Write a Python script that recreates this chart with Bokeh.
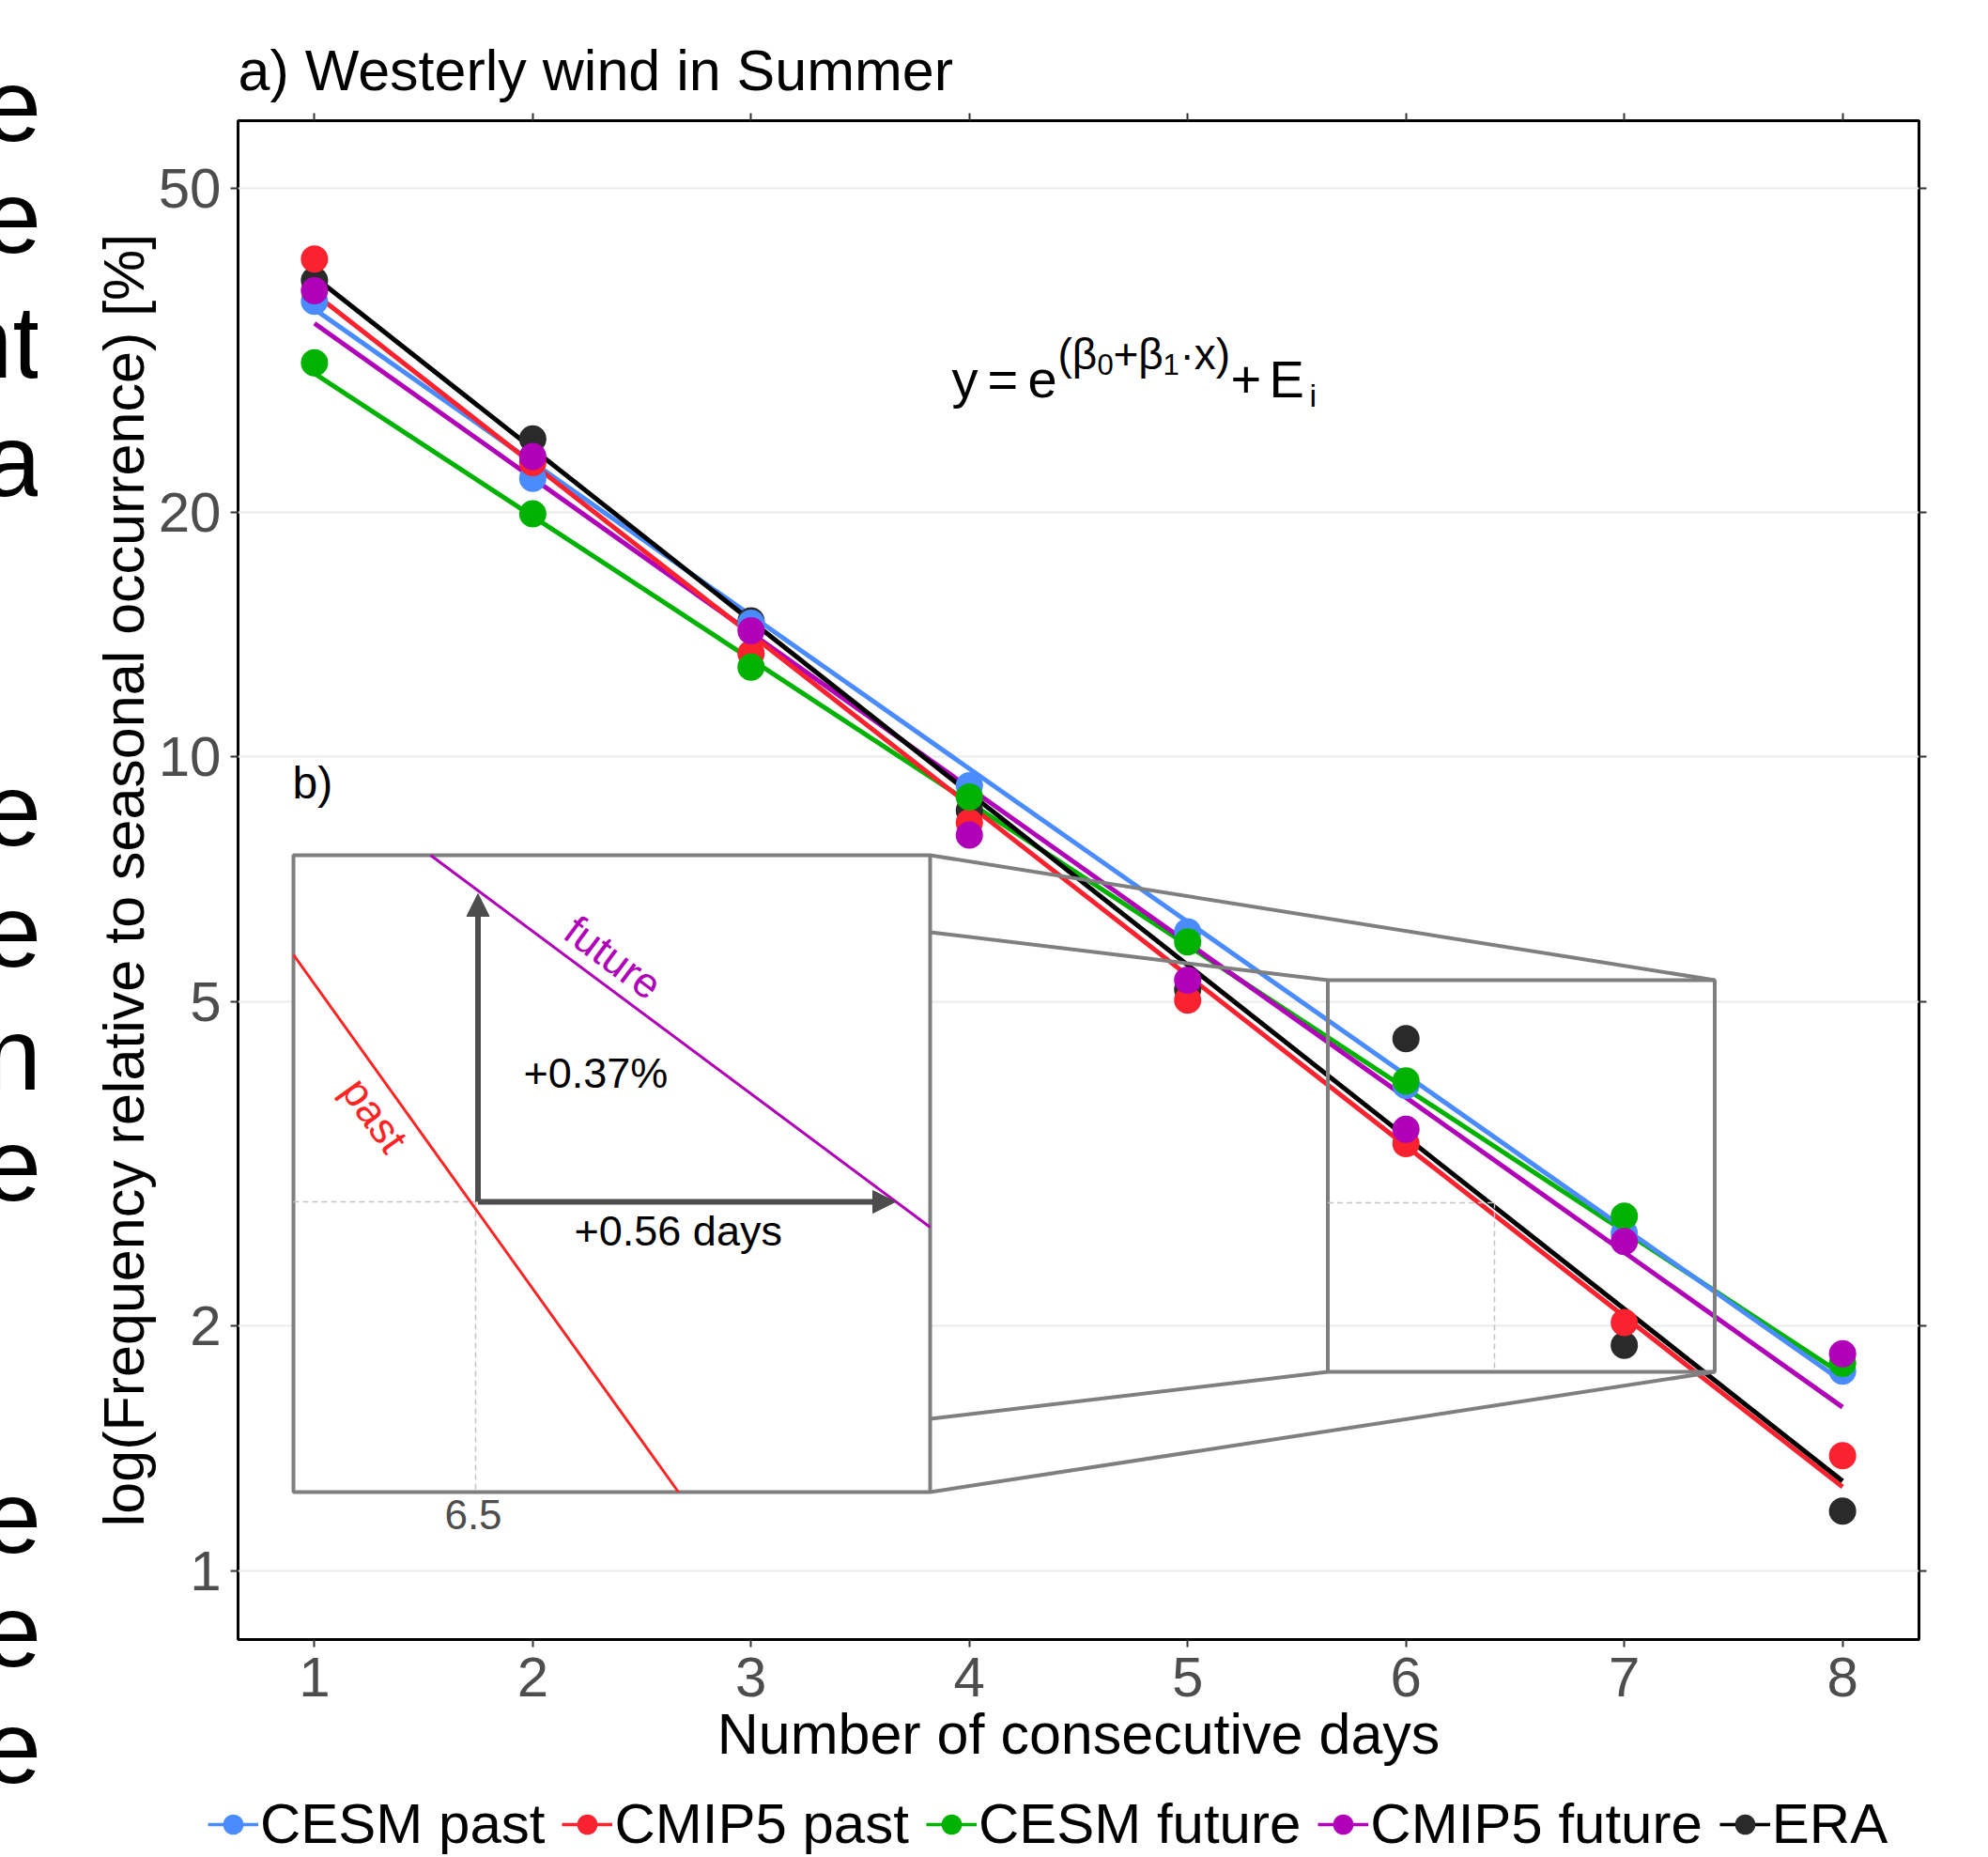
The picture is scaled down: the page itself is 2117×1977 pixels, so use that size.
import math
from bokeh.plotting import figure
from bokeh.layouts import row, column
from bokeh.models import (Range1d, FixedTicker, LinearAxis, LogAxis, PrintfTickFormatter,
                          CustomJSTickFormatter, Legend, LegendItem, Label, Arrow, NormalHead, Div)
from bokeh.embed import file_html
from bokeh.resources import INLINE

FONT = "Liberation Sans"

# ---------------- data ----------------
days = [1, 2, 3, 4, 5, 6, 7, 8]
y_ticks = [1, 2, 5, 10, 20, 50]
series_names = ["CESM past", "CMIP5 past", "CESM future", "CMIP5 future", "ERA"]

cesm_past = [36.3, 22.0, 14.6, 9.22, 6.1, 3.95, 2.6, 1.76]
cmip5_past = [40.9, 23.0, 13.4, 8.31, 5.03, 3.35, 2.02, 1.386]
cesm_future = [30.5, 19.9, 12.9, 8.93, 5.93, 4.00, 2.73, 1.80]
cmip5_future = [37.4, 23.4, 14.3, 8.02, 5.32, 3.49, 2.54, 1.849]
era = [38.5, 24.6, 14.7, 8.6, 5.18, 4.51, 1.894, 1.185]

fit_days = [1, 8]
fit_cesm_past = [35.5, 1.71]
fit_cmip5_past = [37.1, 1.269]
fit_cesm_future = [29.6, 1.744]
fit_cmip5_future = [34.1, 1.59]
fit_era = [38.9, 1.29]

# fragments of the surrounding page text, cut at the left edge
page_fragments = ["e", "e", "nt", "a", "e", "e", "n", "e", "e", "e", "e"]

# ---------------- styles ----------------
C_BLUE = "#4A8CFF"
C_RED = "#F9222E"
C_GREEN = "#00B200"
C_MAG = "#B000B8"
C_ERA_LINE = "#000000"
C_ERA_PT = "#2A2A2A"
C_GREY = "#7F7F7F"
colors_line = {"CESM past": C_BLUE, "CMIP5 past": C_RED, "CESM future": C_GREEN,
               "CMIP5 future": C_MAG, "ERA": C_ERA_LINE}
colors_pt = {"CESM past": C_BLUE, "CMIP5 past": C_RED, "CESM future": C_GREEN,
             "CMIP5 future": C_MAG, "ERA": C_ERA_PT}

X_LO, X_HI = 0.65, 8.35
Y_LO, Y_HI = 0.824, 60.5

TOTAL_W, TOTAL_H = 2117, 1976
DIV_W = 40
W = TOTAL_W - DIV_W
H1 = 1900
H2 = TOTAL_H - H1

# page-pixel frame position (reference)
FX0, FX1 = 253.0, 2043.0
FY0, FY1 = 128.0, 1745.0

p = figure(width=W, height=H1, x_range=Range1d(X_LO, X_HI), y_range=Range1d(Y_LO, Y_HI),
           y_axis_type="log", output_backend="svg", toolbar_location=None,
           min_border_left=int(FX0 - DIV_W), min_border_right=int(TOTAL_W - FX1),
           min_border_top=int(FY0), min_border_bottom=int(H1 - FY1))
p.margin = 0
p.background_fill_color = "white"
p.border_fill_color = "white"
p.outline_line_color = "black"
p.outline_line_width = 3

LLO, LHI = math.log10(Y_LO), math.log10(Y_HI)


def dx(px):
    return X_LO + (px - FX0) / (FX1 - FX0) * (X_HI - X_LO)


def dy(py):
    return 10 ** (LHI - (py - FY0) / (FY1 - FY0) * (LHI - LLO))


# ---------------- axes ----------------
p.xaxis.ticker = FixedTicker(ticks=days)
p.yaxis.ticker = FixedTicker(ticks=y_ticks)
p.yaxis.formatter = PrintfTickFormatter(format="%d")
p.xgrid.visible = False
p.ygrid.ticker = FixedTicker(ticks=y_ticks)
p.ygrid.grid_line_color = "#EBEBEB"
p.ygrid.grid_line_width = 2

for ax in (p.xaxis[0], p.yaxis[0]):
    ax.axis_line_color = None
    ax.major_tick_line_color = "#333333"
    ax.major_tick_line_width = 2
    ax.major_tick_out = 8
    ax.major_tick_in = 0
    ax.minor_tick_line_color = None
    ax.major_label_text_font = FONT
    ax.major_label_text_font_size = "60px"
    ax.major_label_text_color = "#4D4D4D"
    ax.axis_label_text_font = FONT
    ax.axis_label_text_font_size = "61px"
    ax.axis_label_text_font_style = "normal"
    ax.axis_label_text_color = "black"

p.xaxis.axis_label = "Number of consecutive days"
p.yaxis.axis_label = "log(Frequency relative to seasonal occurrence) [%]"
p.xaxis.major_label_standoff = 11
p.yaxis.major_label_standoff = 10
p.xaxis.axis_label_standoff = 3
p.yaxis.axis_label_standoff = 0

blank = CustomJSTickFormatter(code="return ''")
top_ax = LinearAxis(ticker=FixedTicker(ticks=days), formatter=blank, axis_line_color=None,
                    major_tick_out=8, major_tick_in=0, minor_tick_line_color=None,
                    major_tick_line_color="#333333", major_tick_line_width=2,
                    major_label_text_font_size="0px", major_label_standoff=0)
p.add_layout(top_ax, "above")
right_ax = LogAxis(ticker=FixedTicker(ticks=y_ticks), formatter=blank, axis_line_color=None,
                   major_tick_out=8, major_tick_in=0, minor_tick_line_color=None,
                   major_tick_line_color="#333333", major_tick_line_width=2,
                   major_label_text_font_size="0px", major_label_standoff=0)
p.add_layout(right_ax, "right")

# ---------------- title ----------------
p.title.text = "a) Westerly wind in Summer"
p.title.text_font = FONT
p.title.text_font_size = "61px"
p.title.text_font_style = "normal"
p.title.text_color = "black"
p.title.align = "left"
p.title.offset = 0
p.title.standoff = 24

# ---------------- fit lines ----------------
fits = {"CESM past": fit_cesm_past, "CMIP5 past": fit_cmip5_past,
        "CESM future": fit_cesm_future, "CMIP5 future": fit_cmip5_future, "ERA": fit_era}
for name in ["CESM future", "CESM past", "CMIP5 future", "CMIP5 past", "ERA"]:
    p.line(fit_days, fits[name], line_color=colors_line[name], line_width=5)

# ---------------- points ----------------
pts = {"CESM past": cesm_past, "CMIP5 past": cmip5_past, "CESM future": cesm_future,
       "CMIP5 future": cmip5_future, "ERA": era}
for name in ["ERA", "CESM past", "CMIP5 past", "CESM future", "CMIP5 future"]:
    col = colors_pt[name]
    p.scatter(days, pts[name], marker="circle", size=29, fill_color=col,
              line_color=col, line_width=0)

# ---------------- inset b) (schematic, placed in page pixels) ----------------
p.quad(left=[dx(312)], right=[dx(990)], top=[dy(910)], bottom=[dy(1588)],
       fill_color="white", line_color=C_GREY, line_width=4)
p.quad(left=[dx(1413.5)], right=[dx(1825.5)], top=[dy(1043)], bottom=[dy(1460)],
       fill_alpha=0, line_color=C_GREY, line_width=4)
conn = [((990, 910), (1825.5, 1043)), ((990, 992), (1413.5, 1043)),
        ((990, 1510), (1413.5, 1460)), ((990, 1588), (1825.5, 1460))]
p.segment(x0=[dx(a[0]) for a, b in conn], y0=[dy(a[1]) for a, b in conn],
          x1=[dx(b[0]) for a, b in conn], y1=[dy(b[1]) for a, b in conn],
          line_color=C_GREY, line_width=4)
dash = [((312, 1279), (506, 1279)), ((506, 1279), (506, 1588)),
        ((1413.5, 1280), (1591, 1280)), ((1591, 1280), (1591, 1460))]
p.segment(x0=[dx(a[0]) for a, b in dash], y0=[dy(a[1]) for a, b in dash],
          x1=[dx(b[0]) for a, b in dash], y1=[dy(b[1]) for a, b in dash],
          line_color="#C4C4C4", line_width=1.5, line_dash="6 4")
p.segment(x0=[dx(312)], y0=[dy(1016)], x1=[dx(722)], y1=[dy(1588)],
          line_color="#FF2424", line_width=3)
p.segment(x0=[dx(458)], y0=[dy(910)], x1=[dx(990)], y1=[dy(1306)],
          line_color=C_MAG, line_width=3)

for (ex, ey) in [(508.5, 951), (953, 1279)]:
    p.add_layout(Arrow(end=NormalHead(size=24, fill_color="#4D4D4D", line_color="#4D4D4D"),
                       x_start=dx(508.5), y_start=dy(1279), x_end=dx(ex), y_end=dy(ey),
                       line_color="#4D4D4D", line_width=6))


def lab(px, py, text, size, color="black", align="left", angle=0.0):
    p.add_layout(Label(x=dx(px), y=dy(py), text=text, text_font=FONT,
                       text_font_size=f"{size}px", text_color=color, text_align=align,
                       text_baseline="middle", angle=angle, angle_units="rad"))


lab(311, 833, "b)", 48)
lab(557, 1142, "+0.37%", 45)
lab(611, 1310, "+0.56 days", 45)
lab(503.5, 1612, "6.5", 44, color="#4D4D4D", align="center")
lab(398.6, 1186.6, "past", 45, color="#FF2424", align="center", angle=-0.949)
lab(652.5, 1019, "future", 45, color=C_MAG, align="center", angle=-0.640)

# formula y = e^(b0+b1*x) + Ei   (y = vertical centre of the capitals)
MC = 403
SC = 376
DC = 387
lab(1013, MC, "y", 56)
lab(1051, MC, "=", 56)
lab(1094, MC, "e", 56)
lab(1126, SC, "(β", 46)
lab(1168, DC, "0", 31)
lab(1185, SC, "+β", 46)
lab(1238, DC, "1", 31)
lab(1256, SC, "·x)", 46)
lab(1310, MC, "+", 56)
lab(1351, MC, "E", 56)
lab(1394, 420, "i", 34)

# ---------------- legend (own strip under the plot) ----------------
q = figure(width=W, height=H2, x_range=Range1d(0, 1), y_range=Range1d(0, 1),
           output_backend="svg", toolbar_location=None, min_border=0,
           x_axis_location=None, y_axis_location=None)
q.margin = 0
q.grid.visible = False
q.outline_line_color = None
q.background_fill_color = "white"
q.border_fill_color = "white"
if "frame_align" in q.properties():
    q.frame_align = False
    p.frame_align = False
items = []
for name in series_names:
    lr = q.line([-5, -4], [-5, -4], line_color=colors_line[name], line_width=3.5)
    sr = q.scatter([-5], [-5], marker="circle", size=29, fill_color=colors_pt[name],
                   line_color=colors_pt[name], line_width=0)
    items.append(LegendItem(label=name, renderers=[lr, sr]))
legend = Legend(items=items, orientation="horizontal", location=(221 - DIV_W, 0),
                glyph_width=54, glyph_height=60, label_standoff=2, spacing=18,
                padding=0, margin=0, border_line_color=None, background_fill_alpha=0,
                label_text_font=FONT, label_text_font_size="60px", label_text_color="black")
q.add_layout(legend, "center")

# ---------------- page text fragments at the left edge ----------------
frag_baselines = [157, 276, 409, 535, 907, 1036, 1167, 1285, 1660, 1781, 1905]
FS = 110
spans = "".join(
    f'<span style="position:absolute;right:-4px;top:{bl - round(0.905 * FS)}px;'
    f'line-height:1;white-space:nowrap">{t}</span>'
    for t, bl in zip(page_fragments, frag_baselines))
div = Div(text=(f'<div style="position:relative;width:{DIV_W}px;height:{TOTAL_H}px;overflow:hidden;'
                f'font-family:\'{FONT}\';font-size:{FS}px;color:#000;">{spans}</div>'),
          width=DIV_W, height=TOTAL_H, margin=0)

layout = row(div, column(p, q, spacing=0), spacing=0)
open("out.html", "w").write(file_html(layout, INLINE))
